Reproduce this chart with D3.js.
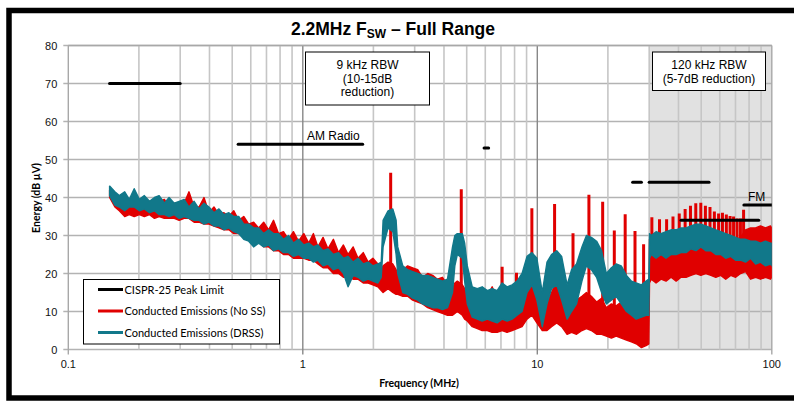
<!DOCTYPE html>
<html>
<head>
<meta charset="utf-8">
<script src="https://cdnjs.cloudflare.com/ajax/libs/d3/7.8.5/d3.min.js"></script>
<style>
  body { margin: 0; background: #fff; }
  svg { display: block; font-family: "Liberation Sans", Arial, sans-serif; }
</style>
</head>
<body>
<div class="chart"></div>
<script>
// Sample frequencies (MHz) shared by both measured traces
var freqMHz = [
  0.150,0.158,0.165,0.174,0.182,0.191,0.201,0.211,0.222,0.233,
  0.244,0.257,0.269,0.283,0.297,0.312,0.327,0.344,0.361,0.379,
  0.398,0.418,0.439,0.461,0.484,0.508,0.533,0.560,0.588,0.617,
  0.648,0.681,0.715,0.750,0.788,0.827,0.869,0.912,0.958,1.01,
  1.06,1.11,1.16,1.22,1.28,1.35,1.42,1.49,1.56,1.64,
  1.72,1.81,1.90,1.99,2.09,2.16,2.20,2.31,2.42,2.50,
  2.54,2.67,2.80,2.94,3.09,3.24,3.41,3.58,3.75,3.94,
  4.14,4.35,4.45,4.56,4.79,4.90,5.03,5.28,5.55,5.82,
  6.12,6.42,6.74,7.08,7.43,7.81,8.20,8.61,9.04,9.49,
  9.96,10.5,11.0,11.5,12.1,12.7,13.4,14.0,14.7,15.5,
  16.2,17.0,17.9,18.8,19.7,20.7,21.7,22.8,24.0,25.2,
  26.4,27.8,29.1,29.9,30.1,30.6,32.1,33.7,35.4,37.2,
  39.1,41.0,43.1,45.2,47.5,49.8,52.3,55.0,57.7,60.6,
  63.6,66.8,70.1,73.6,77.3,81.2,85.3,89.5,94.0,98.7,
  100];

// Conducted Emissions (DRSS) - low / high envelope of the noisy trace (dB uV)
var drssLo = [
  40.5,38,37.5,36.5,37.5,37.5,36.5,37,36,36.5,
  35.5,35.5,35,35.5,34.5,35,34.5,34,34,33,
  33.5,32.5,32.5,31.5,32,31,30.5,29,28.5,27,
  28,27,27.5,26,26.5,25.5,25.5,24.5,25,24,
  24,23,23.5,22,22.5,21,21.5,20,16.5,19.5,
  19,18,18.5,18,17.5,19,27,32,31,25,
  20,15,14.5,13.5,13,12,11.5,11,11,10.5,
  11,15,22,25,24,18,12,8.5,8,7.5,
  8,7.5,7,8,7.5,8,9,10,15,17,
  13,6,12,16,17,13,8,10,12,18,
  22,21,19,15,12,13,14,12,10,9,
  8,8.5,9,9,24,25,24,25,24,25,
  25,25.5,25.5,26.5,26,27,26,26,25,25,
  24,24.5,23.5,23.5,23,24,22.5,23,22,22.5,
  22];
var drssHi = [
  43,41.5,40.5,41.5,39.5,42.3,39.5,40.5,39,40,
  40.5,38.5,40,38.5,39,39.5,37.5,39,37,38.5,
  37.5,36,37,35.5,36,35,35,33,33,32,
  32,30.5,31.5,30.5,30.5,29,30,28,29,27.5,
  28,27,27.5,26,26.5,25,25.5,24,24.5,23,
  24,22.5,23,22,22.5,23,34,36.5,37,34,
  27,22,21,20.5,20,19.5,19.5,19,18.5,18,
  18.5,27,30,30.5,30.5,28,22,16.5,16,16.5,
  15.5,16,15.5,17.5,16.5,17,18,20,24.5,25.5,
  24,15,23,25,26,24.5,17,21,22.5,27,
  30,29.5,28.5,26,20,21.5,22.5,22,19.5,18,
  17.5,17,18,18.5,30.5,30,31,30.5,31,31.5,
  31.5,32,32,32.5,33,33,32.5,32,31.5,31,
  30.5,30,29.5,29,29,28.5,28.5,28,28.5,28,
  28];

// Conducted Emissions (No SS) - low / high envelope
var noSsLo = [
  40,37.5,36.5,35,35.5,35,35.5,35,35.5,34.5,
  35,34.5,34.5,34.5,34,34.5,34.5,33.5,33.5,33,
  33,32.5,32,31.5,31.5,30.5,30.5,29.5,29.5,28.5,
  28.5,27,27,26,26,25,25,24,24,24,
  23.5,23.5,22.5,21.5,21.5,20,20,19,19,18.5,
  18.5,17.5,17.5,17,16.5,15.5,15,16,15,14.5,
  14.5,14,14,13,12.5,12,11,10.5,10,9.5,
  9,9,9.5,10,9,8,7.5,6,5.5,5,
  5,4.5,4.5,5,4.5,5,5.5,6,8,9,
  7,5,5,6,7,6,4,4.5,4,5,
  5.5,5,4,4,3.5,3,3.5,3,2.5,2,
  1.5,0.5,1,1.5,17.5,18.5,17.5,18.5,18,19,
  18,19,19,19.5,20,19.5,20,19.5,19,19.5,
  18.5,19.5,19,20,20.5,18.5,19,18.5,19,18.5,
  19];
var noSsHi = [
  42,41,40,38.5,39,38,39,38,39,37.5,
  39,39.5,37.5,38.5,37,38.5,41.5,37.5,37.5,40,
  36,37.5,35.5,36,35,36.5,34,35,33,33.5,
  32,33.5,31.5,34,30.5,31,29,31,28.5,30.5,
  28,30.5,27,29.5,26.5,29,25.5,27.5,25,27,
  24,25.5,23,24,22.5,21,22,23,22.5,21,
  20,21,22,21.5,21,19,20,19.5,18.5,19,
  17,16,17.5,18,17,16,14,13,12.5,13,
  14,16.5,13,14,13,14.5,14,14,17,18,
  15,11,12,15,18,16,11,12,13,14,
  15,14,12.5,13.5,11,12,11.5,12.5,11,10.5,
  11,10,10.5,9,29,29,29,29,29.5,29.5,
  29.5,30,30,30.5,31,31,31,30.5,30,30,
  29.5,29.5,29,29.5,31.5,32,32,32.5,32,32.5,
  32];

// Narrow harmonic spikes of the No SS trace
var spikeMHz = [2.37,4.74,7.08,8.15,9.48,11.85,14.2,16.6,19.0,21.3,23.7,26.1,28.4,
  30.8,33.2,35.6,37.9,40.3,42.7,45.0,47.4,49.8,52.1,54.5,56.9,59.3,61.6,64.0,66.4,68.7,71.1,73.5,75.8];
var spikeTop = [46.5,42.2,21.8,20.2,37.2,38.3,30.6,40.7,38.9,31.3,35.6,31.2,27.7,
  34.8,34.3,34.3,35,35.8,37,37.8,38.5,38.6,37.8,37.5,36.3,35.8,36,35.5,35.1,35,34.5,34.5,36.8];
var spikeBase = [18,15,12,12,15,15,11,12,11,10,10,9,9,
  28,28,28,28,28,28,28,28,28,28,28,28,28,28,28,28,28,28,28,28];

// CISPR-25 peak limit segments
var limitStartMHz = [0.15, 0.53, 5.93, 25.5, 30, 41, 76];
var limitEndMHz = [0.30, 1.80, 6.20, 27.8, 54, 88, 108];
var limitDb = [70, 54, 53, 44, 44, 34, 38];

// Axis ticks and labels
var yTicks = [0, 10, 20, 30, 40, 50, 60, 70, 80];
var xTickMHz = [0.1, 1, 10, 100];
var xTickLabels = ["0.1", "1", "10", "100"];

var legendLabels = ["CISPR-25 Peak Limit", "Conducted Emissions (No SS)", "Conducted Emissions (DRSS)"];
var legendColors = ["#000000", "#e00000", "#11788a"];
var rbwLowText = ["9 kHz RBW", "(10-15dB", "reduction)"];
var rbwHighText = ["120 kHz RBW", "(5-7dB reduction)"];

// SVG area
var svgWidth = 794;
var svgHeight = 401;
var margin = {top: 45.5, right: 22.2, bottom: 51.5, left: 68.3};
var width = svgWidth - margin.left - margin.right;
var height = svgHeight - margin.top - margin.bottom;

var svg = d3.select(".chart").append("svg")
  .attr("width", svgWidth)
  .attr("height", svgHeight);

// black outer frame (right side is cut off in the original)
svg.append("rect")
  .attr("x", 9).attr("y", 10.5)
  .attr("width", 820).attr("height", 387.5)
  .attr("fill", "none").attr("stroke", "#000").attr("stroke-width", 5.5);

var chart = svg.append("g")
  .attr("transform", "translate(" + margin.left + "," + margin.top + ")");

var xScale = d3.scaleLog().domain([0.1, 100]).range([0, width]);
var yScale = d3.scaleLinear().domain([0, 80]).range([height, 0]);

// 120 kHz RBW region shading
chart.append("rect")
  .attr("x", xScale(30)).attr("y", 0)
  .attr("width", xScale(100) - xScale(30)).attr("height", height)
  .attr("fill", "#e1e1e1");

// grid
var gridX = xScale.ticks();
function isDecade(f) { return Math.abs(Math.log10(f) - Math.round(Math.log10(f))) < 1e-6; }

chart.selectAll(".hgrid").data(yTicks).enter().append("line")
  .attr("class", "hgrid")
  .attr("x1", -5).attr("x2", width)
  .attr("y1", function(d) { return yScale(d); })
  .attr("y2", function(d) { return yScale(d); })
  .attr("stroke", "#b3b3b3").attr("stroke-width", 1.5);

chart.selectAll(".vgrid").data(gridX.filter(function(d) { return !isDecade(d); })).enter().append("line")
  .attr("class", "vgrid")
  .attr("x1", function(d) { return xScale(d); })
  .attr("x2", function(d) { return xScale(d); })
  .attr("y1", 0).attr("y2", height)
  .attr("stroke", "#c6c6c6").attr("stroke-width", 1.6);

chart.selectAll(".dgrid").data(xTickMHz).enter().append("line")
  .attr("class", "dgrid")
  .attr("x1", function(d) { return xScale(d); })
  .attr("x2", function(d) { return xScale(d); })
  .attr("y1", 0).attr("y2", height + 5)
  .attr("stroke", function(d) { return (d === 0.1 || d === 100) ? "#a8a8a8" : "#888"; })
  .attr("stroke-width", 1.4);

chart.append("line")
  .attr("x1", 0).attr("x2", width).attr("y1", 0).attr("y2", 0)
  .attr("stroke", "#a8a8a8").attr("stroke-width", 1.5);

// clip traces to plot area
chart.append("clipPath").attr("id", "plotClip")
  .append("rect").attr("width", width).attr("height", height);

var traces = chart.append("g").attr("clip-path", "url(#plotClip)");

function bandData(lo, hi) {
  return freqMHz.map(function(f, i) { return {f: f, lo: lo[i], hi: hi[i]}; });
}

var band = d3.area()
  .x(function(d) { return xScale(d.f); })
  .y0(function(d) { return yScale(d.lo); })
  .y1(function(d) { return yScale(d.hi); });

// No SS trace
traces.append("path")
  .datum(bandData(noSsLo, noSsHi))
  .attr("d", band)
  .attr("fill", legendColors[1])
  .attr("stroke", legendColors[1]).attr("stroke-width", 1.4).attr("stroke-linejoin", "round");

traces.selectAll(".spike").data(spikeMHz).enter().append("line")
  .attr("class", "spike")
  .attr("x1", function(d) { return xScale(d); })
  .attr("x2", function(d) { return xScale(d); })
  .attr("y1", function(d, i) { return yScale(spikeBase[i]); })
  .attr("y2", function(d, i) { return yScale(spikeTop[i]); })
  .attr("stroke", legendColors[1]).attr("stroke-width", 3);

// DRSS trace
traces.append("path")
  .datum(bandData(drssLo, drssHi))
  .attr("d", band)
  .attr("fill", legendColors[2])
  .attr("stroke", legendColors[2]).attr("stroke-width", 1.4).attr("stroke-linejoin", "round");

// CISPR-25 limit lines
traces.selectAll(".limit").data(limitDb).enter().append("line")
  .attr("class", "limit")
  .attr("x1", function(d, i) { return xScale(limitStartMHz[i]); })
  .attr("x2", function(d, i) { return xScale(limitEndMHz[i]); })
  .attr("y1", function(d) { return yScale(d); })
  .attr("y2", function(d) { return yScale(d); })
  .attr("stroke", "#000").attr("stroke-width", 3).attr("stroke-linecap", "round");

// band labels
svg.append("text").attr("x", 307).attr("y", 140)
  .attr("font-size", 12).text("AM Radio");
svg.append("text").attr("x", 748).attr("y", 201)
  .attr("font-size", 12).text("FM");

// RBW boxes
svg.append("rect").attr("x", 305.5).attr("y", 52).attr("width", 124).attr("height", 53)
  .attr("fill", "#fff").attr("stroke", "#000").attr("stroke-width", 1);
svg.selectAll(".rbwLow").data(rbwLowText).enter().append("text")
  .attr("class", "rbwLow")
  .attr("x", 367.5).attr("y", function(d, i) { return 69 + i * 13.5; })
  .attr("text-anchor", "middle").attr("font-size", 12).text(function(d) { return d; });

svg.append("rect").attr("x", 652.5).attr("y", 52).attr("width", 113).attr("height", 38.5)
  .attr("fill", "#fff").attr("stroke", "#000").attr("stroke-width", 1);
svg.selectAll(".rbwHigh").data(rbwHighText).enter().append("text")
  .attr("class", "rbwHigh")
  .attr("x", 709).attr("y", function(d, i) { return 69 + i * 14; })
  .attr("text-anchor", "middle").attr("font-size", 12).text(function(d) { return d; });

// axes tick labels
chart.selectAll(".ylab").data(yTicks).enter().append("text")
  .attr("class", "ylab")
  .attr("x", -11).attr("y", function(d) { return yScale(d) + 4; })
  .attr("text-anchor", "end").attr("font-size", 11).attr("fill", "#111")
  .text(function(d) { return d; });

chart.selectAll(".xlab").data(xTickMHz).enter().append("text")
  .attr("class", "xlab")
  .attr("x", function(d) { return xScale(d); }).attr("y", height + 18.5)
  .attr("text-anchor", "middle").attr("font-size", 11).attr("fill", "#111")
  .text(function(d, i) { return xTickLabels[i]; });

// axis titles
chart.append("text")
  .attr("x", 419 - margin.left).attr("y", height + 37)
  .attr("text-anchor", "middle")
  .attr("font-family", "Lato, sans-serif").attr("font-weight", "bold").attr("font-size", 10.5)
  .text("Frequency (MHz)");
svg.append("text")
  .attr("transform", "translate(39.5,198) rotate(-90)")
  .attr("text-anchor", "middle")
  .attr("font-family", "Lato, sans-serif").attr("font-weight", "bold").attr("font-size", 10.5)
  .text("Energy (dB µV)");

// title
var title = svg.append("text")
  .attr("x", 393).attr("y", 34.5)
  .attr("text-anchor", "middle").attr("font-weight", "bold").attr("font-size", 17.5);
title.append("tspan").text("2.2MHz F");
title.append("tspan").attr("font-size", 12).attr("dy", 3).text("SW");
title.append("tspan").attr("dy", -3).text(" \u2013 Full Range");

// legend
var legend = svg.append("g");
legend.append("rect").attr("x", 83.5).attr("y", 279.5).attr("width", 196).attr("height", 64.5)
  .attr("fill", "#fff").attr("stroke", "#000").attr("stroke-width", 1);
legend.selectAll(".lline").data(legendLabels).enter().append("line")
  .attr("class", "lline")
  .attr("x1", 98).attr("x2", 123)
  .attr("y1", function(d, i) { return 289.5 + i * 21.5; })
  .attr("y2", function(d, i) { return 289.5 + i * 21.5; })
  .attr("stroke", function(d, i) { return legendColors[i]; }).attr("stroke-width", 3);
legend.selectAll(".ltext").data(legendLabels).enter().append("text")
  .attr("class", "ltext")
  .attr("x", 124.5).attr("y", function(d, i) { return 293.5 + i * 21.5; })
  .attr("font-family", "Lato, sans-serif").attr("font-size", 11)
  .text(function(d) { return d; });
</script>
</body>
</html>
